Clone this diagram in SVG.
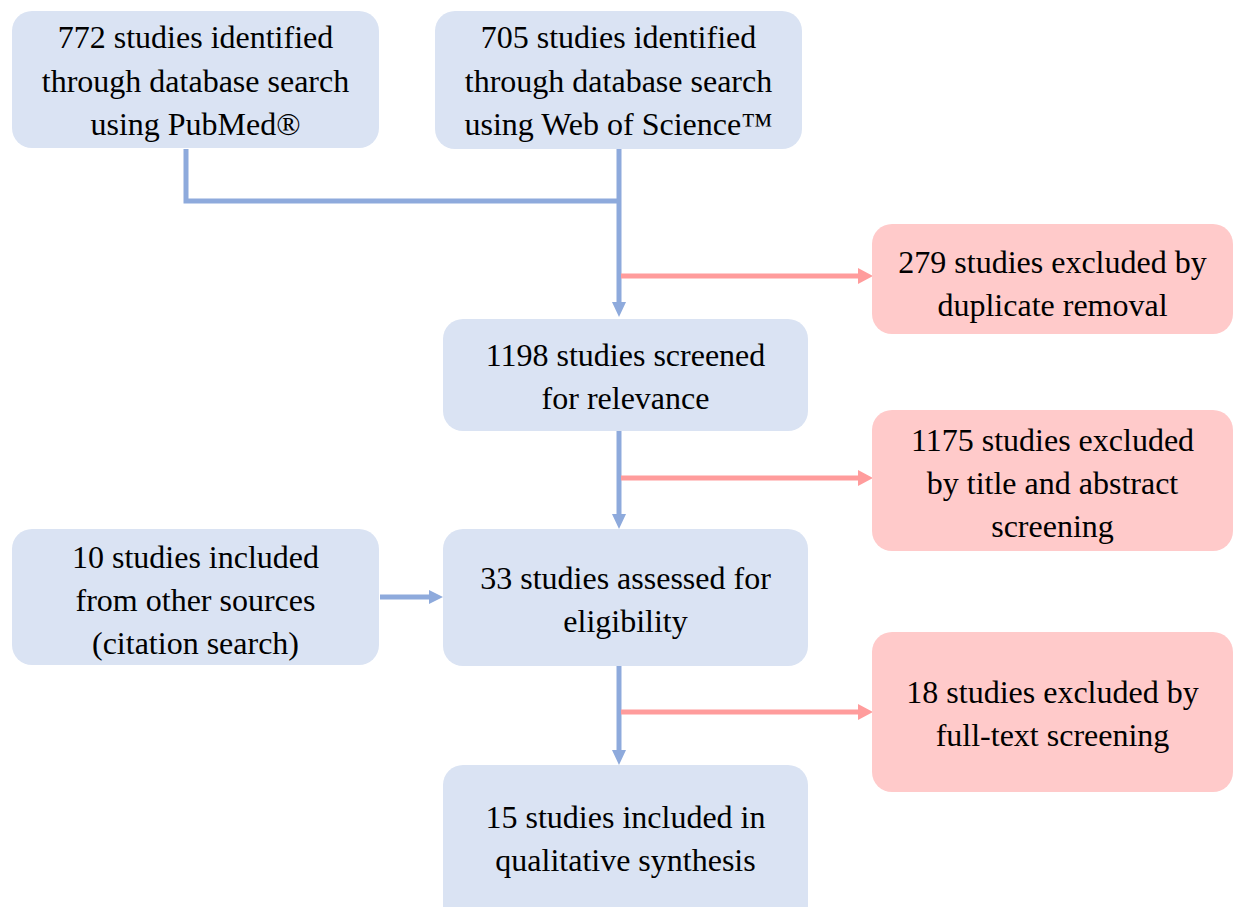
<svg xmlns="http://www.w3.org/2000/svg" width="1234" height="907" viewBox="0 0 1234 907">
<style>
.b{fill:#dae3f3}
.r{fill:#ffcaca}
text{font-family:'Liberation Serif','Times New Roman',serif;font-size:32px;fill:#000;text-anchor:middle}
.lb{stroke:#8eaadc;stroke-width:5;fill:none}
.lr{stroke:#ff9c9c;stroke-width:5;fill:none}
.ab{fill:#8eaadc}
.ar{fill:#ff9c9c}
</style>
<rect width="1234" height="907" fill="#fff"/>
<g id="connectors">
<polyline class="lb" points="186,149 186,201 619,201"/>
<line class="lb" x1="619" y1="149" x2="619" y2="303"/>
<polygon class="ab" points="612,302 626,302 619,317"/>
<line class="lr" x1="621" y1="276" x2="860" y2="276"/>
<polygon class="ar" points="858,268 858,284 873,276"/>
<line class="lb" x1="619" y1="431" x2="619" y2="515"/>
<polygon class="ab" points="612,514 626,514 619,529"/>
<line class="lr" x1="621" y1="478" x2="860" y2="478"/>
<polygon class="ar" points="858,470 858,486 873,478"/>
<line class="lb" x1="380" y1="597" x2="430" y2="597"/>
<polygon class="ab" points="429,590 429,604 443,597"/>
<line class="lb" x1="619" y1="666" x2="619" y2="751"/>
<polygon class="ab" points="612,750 626,750 619,765"/>
<line class="lr" x1="621" y1="712" x2="860" y2="712"/>
<polygon class="ar" points="858,704 858,720 873,712"/>
</g>
<g id="n_pubmed">
<rect class="b" x="12" y="11" width="367" height="137" rx="20"/>
<text x="195.5" y="48">772 studies identified</text>
<text x="195.5" y="92">through database search</text>
<text x="195.5" y="135">using PubMed®</text>
</g>
<g id="n_wos">
<rect class="b" x="435" y="11" width="367" height="138" rx="20"/>
<text x="618.5" y="48">705 studies identified</text>
<text x="618.5" y="92">through database search</text>
<text x="618.5" y="135">using Web of Science™</text>
</g>
<g id="n_dup">
<rect class="r" x="872" y="224" width="361" height="110" rx="20"/>
<text x="1052.5" y="273">279 studies excluded by</text>
<text x="1052.5" y="316">duplicate removal</text>
</g>
<g id="n_screened">
<rect class="b" x="443" y="319" width="365" height="112" rx="20"/>
<text x="625.5" y="366">1198 studies screened</text>
<text x="625.5" y="409">for relevance</text>
</g>
<g id="n_title">
<rect class="r" x="872" y="410" width="361" height="141" rx="20"/>
<text x="1052.5" y="451">1175 studies excluded</text>
<text x="1052.5" y="494">by title and abstract</text>
<text x="1052.5" y="537">screening</text>
</g>
<g id="n_other">
<rect class="b" x="12" y="529" width="367" height="136" rx="20"/>
<text x="195.5" y="568">10 studies included</text>
<text x="195.5" y="611">from other sources</text>
<text x="195.5" y="654">(citation search)</text>
</g>
<g id="n_eligible">
<rect class="b" x="443" y="529" width="365" height="137" rx="20"/>
<text x="625.5" y="589">33 studies assessed for</text>
<text x="625.5" y="632">eligibility</text>
</g>
<g id="n_fulltext">
<rect class="r" x="872" y="632" width="361" height="160" rx="20"/>
<text x="1052.5" y="703">18 studies excluded by</text>
<text x="1052.5" y="746">full-text screening</text>
</g>
<g id="n_included">
<rect class="b" x="443" y="765" width="365" height="160" rx="20"/>
<text x="625.5" y="828">15 studies included in</text>
<text x="625.5" y="871">qualitative synthesis</text>
</g>
</svg>
